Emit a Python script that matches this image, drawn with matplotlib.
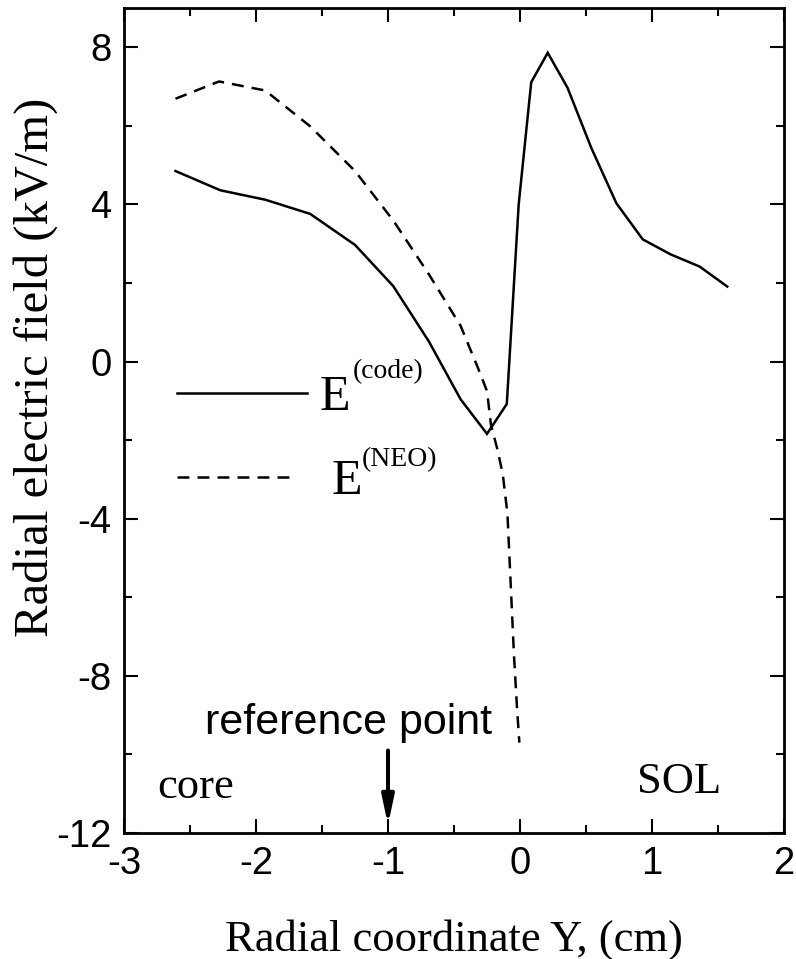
import matplotlib
matplotlib.use("Agg")
import matplotlib.pyplot as plt
from matplotlib.ticker import MultipleLocator

# E^(code): radial field from the code (kV/m) vs Y (cm)
y_code = [-2.61, -2.27, -1.93, -1.59, -1.25, -0.96, -0.69, -0.45, -0.25, -0.10,
          -0.01, 0.085, 0.21, 0.36, 0.54, 0.73, 0.93, 1.14, 1.36, 1.57]
e_code = [4.85, 4.36, 4.12, 3.76, 2.97, 1.92, 0.51, -0.96, -1.84, -1.08,
          4.0, 7.11, 7.86, 6.97, 5.44, 4.03, 3.11, 2.73, 2.42, 1.91]

# E^(NEO): neoclassical estimate
y_neo = [-2.61, -2.28, -1.93, -1.59, -1.25, -0.96, -0.69, -0.45, -0.32, -0.25,
         -0.22, -0.17, -0.13, -0.095, -0.07, -0.045, -0.023, -0.005]
e_neo = [6.69, 7.13, 6.90, 5.99, 4.85, 3.59, 2.22, 0.91, -0.15, -0.75,
         -1.61, -2.25, -2.88, -3.88, -5.7, -7.52, -8.79, -9.7]

xticks = [-3, -2, -1, 0, 1, 2]
yticks = [-12, -8, -4, 0, 4, 8]

SERIF = "Liberation Serif"
SANS = "Liberation Sans"

plt.rcParams["axes.unicode_minus"] = False

fig = plt.figure(figsize=(7.96, 9.59), dpi=100)
ax = fig.add_axes([124 / 796, 126 / 959, 660 / 796, 825 / 959])

lw = 1.8
dash = (0, (8.6 / lw, 5.8 / lw))
ax.plot(y_code, e_code, color="black", linewidth=lw, solid_joinstyle="miter")
ax.plot(y_neo, e_neo, color="black", linewidth=lw, linestyle=dash)

ax.set_xlim(-3, 2)
ax.set_ylim(-12, 9)
ax.set_xticks(xticks)
ax.set_yticks(yticks)
ax.xaxis.set_minor_locator(MultipleLocator(0.5))
ax.yaxis.set_minor_locator(MultipleLocator(2))
ax.tick_params(which="both", direction="in", top=True, right=True, width=1.5)
ax.tick_params(which="major", length=10, pad=9)
ax.tick_params(which="minor", length=6)
for lab in ax.get_xticklabels() + ax.get_yticklabels():
  lab.set_fontfamily(SANS)
  lab.set_fontsize(27.5)
for s in ax.spines.values():
  s.set_linewidth(2.0)

ax.set_xlabel("Radial coordinate Y, (cm)", fontsize=32, family=SERIF, labelpad=27)
ax.set_ylabel("Radial electric field (kV/m)", fontsize=35, family=SERIF)
ax.yaxis.set_label_coords(-0.1, 0.564)

# hand-made legend
ax.plot([-2.60, -1.61], [-0.79, -0.79], color="black", linewidth=lw)
ax.plot([-2.60, -1.69], [-2.93, -2.93], color="black", linewidth=lw, linestyle=dash)
ax.text(-1.52, -1.22, "E", fontsize=36, family=SERIF, ha="left", va="baseline")
ax.text(-1.27, -0.43, "(code)", fontsize=20, family=SERIF, ha="left", va="baseline")
ax.text(-1.424, -3.36, "E", fontsize=36, family=SERIF, ha="left", va="baseline")
ax.text(-1.197, -2.67, "(NEO)", fontsize=20, family=SERIF, ha="left", va="baseline")

# annotations
ax.text(-1.30, -9.47, "reference point", fontsize=31, family=SANS, ha="center", va="baseline")
ax.annotate("", xy=(-1.0, -11.8), xytext=(-1.0, -9.9),
            arrowprops=dict(arrowstyle="-|>,head_length=0.85,head_width=0.18",
                            mutation_scale=20, color="black", linewidth=2.9,
                            shrinkA=0, shrinkB=0))
ax.text(-2.75, -11.12, "core", fontsize=32, family=SERIF, ha="left", va="baseline")
ax.text(0.886, -10.99, "SOL", fontsize=32, family=SERIF, ha="left", va="baseline")

fig.savefig("out.png", dpi=100)
